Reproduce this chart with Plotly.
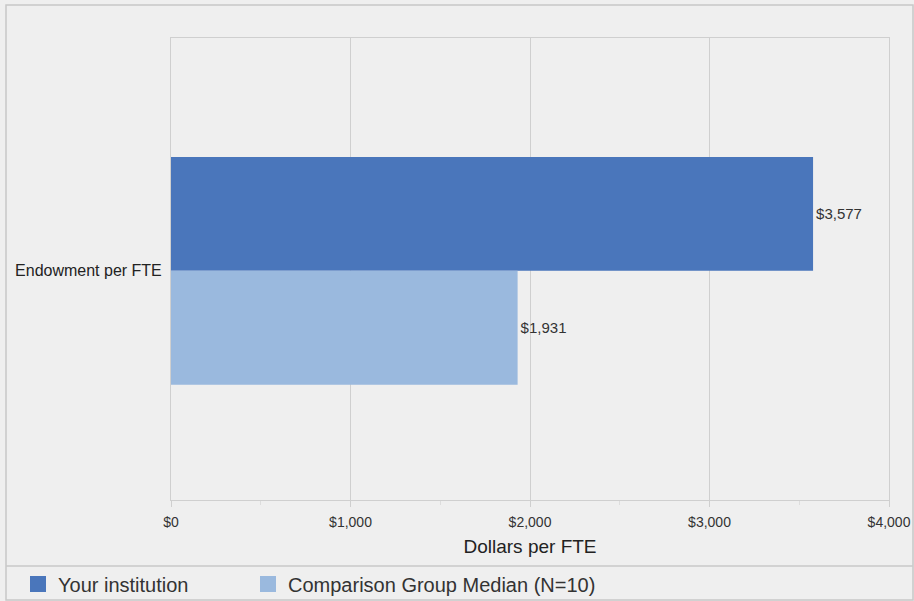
import plotly.graph_objects as go

categories = ["Endowment per FTE"]
series_names = ["Your institution", "Comparison Group Median (N=10)"]
your_values = [3577]
median_values = [1931]
colors = ["#4a76bb", "#9ab9de"]
tick_vals = [0, 1000, 2000, 3000, 4000]
tick_text = ["$0", "$1,000", "$2,000", "$3,000", "$4,000"]

W, H = 914, 601
L, R, T, B = 171, 889, 38, 500

fig = go.Figure()
legends = ["legend", "legend2"]
for i, (name, vals, col) in enumerate([(series_names[0], your_values, colors[0]),
                                       (series_names[1], median_values, colors[1])]):
    fig.add_trace(go.Bar(
        y=categories, x=vals, orientation="h", name=name,
        marker=dict(color=col, line=dict(width=0)),
        text=[f"${v:,}" for v in vals], textposition="outside",
        textfont=dict(family="Arial", size=15, color="#333333"),
        cliponaxis=False, showlegend=False,
    ))
    fig.add_trace(go.Scatter(
        x=[None], y=[None], mode="markers", name=name, legend=legends[i],
        marker=dict(symbol="square", size=16, color=col),
    ))

def px_x(p):
    return (p - L) / (R - L)

def px_y(p):
    return (B - p) / (B - T)

leg_common = dict(orientation="h", xref="container", yref="container", yanchor="middle",
                  y=(H - 584) / H, xanchor="left",
                  font=dict(family="Arial", size=20, color="#333333"),
                  bgcolor="rgba(0,0,0,0)", borderwidth=0)

fig.update_layout(
    width=W, height=H,
    margin=dict(l=L, r=W - R, t=T, b=H - B, autoexpand=False),
    paper_bgcolor="#efefef", plot_bgcolor="#efefef",
    barmode="group", bargap=0.507, bargroupgap=0,
    font=dict(family="Arial", color="#333333"),
    legend=dict(x=18 / W, **leg_common),
    legend2=dict(x=248 / W, **leg_common),
    xaxis=dict(range=[0, 4000], tickvals=tick_vals, ticktext=tick_text,
               showgrid=True, gridcolor="#cfcfcf", gridwidth=1,
               zeroline=False, showline=True, linecolor="#cfcfcf", mirror=True,
               ticks="outside", ticklen=6, tickcolor="#cfcfcf", ticklabelstandoff=3,
               minor=dict(tickvals=[500, 1500, 2500, 3500], ticks="outside", ticklen=4,
                          tickcolor="#dddddd", showgrid=False),
               tickfont=dict(family="Arial", size=14, color="#333333"),
               title=dict(text="Dollars per FTE", font=dict(family="Arial", size=19, color="#222222"),
                          standoff=10)),
    yaxis=dict(type="category", range=[0.496, -0.504],
               showgrid=False, showline=True, linecolor="#cfcfcf", mirror=True,
               ticks="", ticklabelstandoff=5,
               tickfont=dict(family="Arial", size=16, color="#222222")),
    shapes=[
        dict(type="rect", xref="paper", yref="paper", x0=px_x(6), x1=px_x(913),
             y0=px_y(600), y1=px_y(5), line=dict(color="#c8c8c8", width=1.5), layer="below"),
        dict(type="line", xref="paper", yref="paper", x0=px_x(6), x1=px_x(913),
             y0=px_y(566), y1=px_y(566), line=dict(color="#c8c8c8", width=1.5)),
    ],
)

fig.write_html("out.html")
